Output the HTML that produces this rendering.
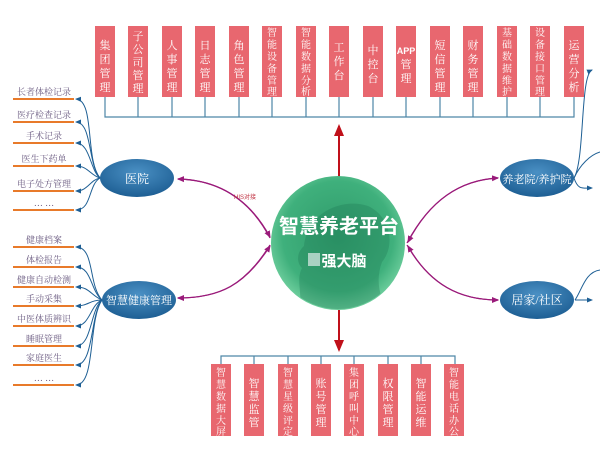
<!DOCTYPE html>
<html><head><meta charset="utf-8"><style>
html,body{margin:0;padding:0;background:#fff;width:600px;height:450px;overflow:hidden}
svg{display:block}
text{font-family:"Liberation Serif","Noto Serif CJK SC",serif}
.v{fill:#fff;font-size:11px;text-anchor:middle}
.s{font-size:10px}
.l{fill:#6a5a80;font-size:9px;text-anchor:middle}
</style></head><body>
<svg width="600" height="450" viewBox="0 0 600 450" xmlns="http://www.w3.org/2000/svg">
<defs>
<radialGradient id="ge" cx="50%" cy="35%" r="65%"><stop offset="0" stop-color="#4a90c4"/><stop offset="1" stop-color="#1e5f94"/></radialGradient>
<radialGradient id="gc" cx="50%" cy="45%" r="55%"><stop offset="0" stop-color="#2f9a6a"/><stop offset="0.75" stop-color="#3fb07c"/><stop offset="1" stop-color="#6fcf9e"/></radialGradient>
<clipPath id="cc"><circle cx="338" cy="243" r="66"/></clipPath>
<marker id="ab" markerWidth="6" markerHeight="6" refX="5" refY="3" orient="auto"><path d="M0,0.5 L6,3 L0,5.5z" fill="#1e5f94"/></marker>
<marker id="ap" markerWidth="6" markerHeight="6" refX="5" refY="3" orient="auto"><path d="M0,0.5 L6,3 L0,5.5z" fill="#9a1a7a"/></marker>
<marker id="ar" markerWidth="6" markerHeight="6" refX="5" refY="3" orient="auto"><path d="M0,0.5 L6,3 L0,5.5z" fill="#c0101a"/></marker>
</defs>

<g stroke="#4d86a6" stroke-width="1.2" fill="none">
<path d="M105,97V117H574V97"/>
<path d="M138,97V117M172,97V117M205,97V117M239,97V117M272,97V117M306,97V117M339,97V117M373,97V117M406,97V117M440,97V117M473,97V117M507,97V117M540,97V117"/>
<path d="M221,364V356H455V364M254,356V364M288,356V364M321,356V364M354,356V364M388,356V364M421,356V364"/>
</g>
<g fill="#e8676f">
<rect x="95" y="26" width="20" height="71"/><rect x="128" y="26" width="20" height="71"/><rect x="162" y="26" width="20" height="71"/><rect x="195" y="26" width="20" height="71"/><rect x="229" y="26" width="20" height="71"/><rect x="262" y="26" width="20" height="71"/><rect x="296" y="26" width="20" height="71"/><rect x="329" y="26" width="20" height="71"/><rect x="363" y="26" width="20" height="71"/><rect x="396" y="26" width="20" height="71"/><rect x="430" y="26" width="20" height="71"/><rect x="463" y="26" width="20" height="71"/><rect x="497" y="26" width="20" height="71"/><rect x="530" y="26" width="20" height="71"/><rect x="564" y="26" width="20" height="71"/>
<rect x="211" y="364" width="20" height="72"/><rect x="244" y="364" width="20" height="72"/><rect x="278" y="364" width="20" height="72"/><rect x="311" y="364" width="20" height="72"/><rect x="344" y="364" width="20" height="72"/><rect x="378" y="364" width="20" height="72"/><rect x="411" y="364" width="20" height="72"/><rect x="444" y="364" width="20" height="72"/>
</g>
<g class="v">
<text x="105" y="49">集</text><text x="105" y="63">团</text><text x="105" y="77">管</text><text x="105" y="91">理</text>
<text x="138" y="40">子</text><text x="138" y="53">公</text><text x="138" y="66">司</text><text x="138" y="79">管</text><text x="138" y="92">理</text>
<text x="172" y="49">人</text><text x="172" y="63">事</text><text x="172" y="77">管</text><text x="172" y="91">理</text>
<text x="205" y="49">日</text><text x="205" y="63">志</text><text x="205" y="77">管</text><text x="205" y="91">理</text>
<text x="239" y="49">角</text><text x="239" y="63">色</text><text x="239" y="77">管</text><text x="239" y="91">理</text>
<g class="s">
<text x="272" y="36">智</text><text x="272" y="48">能</text><text x="272" y="60">设</text><text x="272" y="72">备</text><text x="272" y="84">管</text><text x="272" y="95">理</text>
<text x="306" y="36">智</text><text x="306" y="48">能</text><text x="306" y="60">数</text><text x="306" y="72">据</text><text x="306" y="84">分</text><text x="306" y="95">析</text>
<text x="507" y="36">基</text><text x="507" y="48">础</text><text x="507" y="60">数</text><text x="507" y="72">据</text><text x="507" y="84">维</text><text x="507" y="95">护</text>
<text x="540" y="36">设</text><text x="540" y="48">备</text><text x="540" y="60">接</text><text x="540" y="72">口</text><text x="540" y="84">管</text><text x="540" y="95">理</text>
<text x="221" y="376">智</text><text x="221" y="388">慧</text><text x="221" y="400">数</text><text x="221" y="412">据</text><text x="221" y="424">大</text><text x="221" y="435">屏</text>
<text x="288" y="376">智</text><text x="288" y="388">慧</text><text x="288" y="400">星</text><text x="288" y="412">级</text><text x="288" y="424">评</text><text x="288" y="435">定</text>
<text x="354" y="376">集</text><text x="354" y="388">团</text><text x="354" y="400">呼</text><text x="354" y="412">叫</text><text x="354" y="424">中</text><text x="354" y="435">心</text>
<text x="454" y="376">智</text><text x="454" y="388">能</text><text x="454" y="400">电</text><text x="454" y="412">话</text><text x="454" y="424">办</text><text x="454" y="435">公</text>
</g>
<text x="339" y="51">工</text><text x="339" y="65">作</text><text x="339" y="79">台</text>
<text x="373" y="54">中</text><text x="373" y="68">控</text><text x="373" y="82">台</text>
<text x="406" y="54" style="font-family:'Liberation Sans',sans-serif;font-size:9px;font-weight:bold">APP</text><text x="406" y="68">管</text><text x="406" y="82">理</text>
<text x="440" y="49">短</text><text x="440" y="63">信</text><text x="440" y="77">管</text><text x="440" y="91">理</text>
<text x="473" y="49">财</text><text x="473" y="63">务</text><text x="473" y="77">管</text><text x="473" y="91">理</text>
<text x="574" y="49">运</text><text x="574" y="63">营</text><text x="574" y="77">分</text><text x="574" y="91">析</text>
<text x="254" y="387">智</text><text x="254" y="400">慧</text><text x="254" y="413">监</text><text x="254" y="426">管</text>
<text x="321" y="387">账</text><text x="321" y="400">号</text><text x="321" y="413">管</text><text x="321" y="426">理</text>
<text x="388" y="387">权</text><text x="388" y="400">限</text><text x="388" y="413">管</text><text x="388" y="426">理</text>
<text x="421" y="387">智</text><text x="421" y="400">能</text><text x="421" y="413">运</text><text x="421" y="426">维</text>
</g>

<path d="M339,178V126" stroke="#c0101a" stroke-width="2" marker-end="url(#ar)"/>
<path d="M339,310V350" stroke="#c0101a" stroke-width="2" marker-end="url(#ar)"/>

<g stroke="#9a1a7a" stroke-width="1.2" fill="none">
<path d="M270,238 C250,200 220,180 178,179" marker-end="url(#ap)"/>
<path d="M178,179 C220,180 250,200 270,237" marker-end="url(#ap)"/>
<path d="M270,245 C245,285 220,298 178,298" marker-end="url(#ap)"/>
<path d="M178,298 C220,298 245,285 270,246" marker-end="url(#ap)"/>
<path d="M407,243 C430,200 460,180 498,178" marker-end="url(#ap)"/>
<path d="M498,178 C460,180 430,200 408,242" marker-end="url(#ap)"/>
<path d="M407,245 C430,285 460,300 498,300" marker-end="url(#ap)"/>
<path d="M498,300 C460,300 430,285 408,246" marker-end="url(#ap)"/>
</g>
<text x="234" y="199" style="font-family:'Liberation Sans','Noto Sans CJK SC',sans-serif;font-size:6px;fill:#c03040">HIS对接</text>

<circle cx="338" cy="243" r="67" fill="url(#gc)"/>
<g clip-path="url(#cc)">
<path d="M300,310 C302,290 296,280 302,268 C296,262 297,252 304,246 C308,210 345,198 368,206 C390,216 396,245 382,262 C376,278 378,295 388,310z" fill="#1f7a55" opacity="0.35"/>
</g>
<text x="339" y="233" text-anchor="middle" style="font-family:'Liberation Sans','Noto Sans CJK SC',sans-serif;font-size:20px;font-weight:bold;fill:#fff">智慧养老平台</text>
<rect x="308" y="253" width="12" height="13" fill="#c8e0d8" opacity="0.8"/>
<text x="344" y="266" text-anchor="middle" style="font-family:'Liberation Sans','Noto Sans CJK SC',sans-serif;font-size:15px;font-weight:bold;fill:#fff">强大脑</text>

<ellipse cx="137" cy="178" rx="37" ry="19" fill="url(#ge)"/>
<ellipse cx="139" cy="300" rx="37" ry="19" fill="url(#ge)"/>
<ellipse cx="537" cy="178" rx="37" ry="19" fill="url(#ge)"/>
<ellipse cx="537" cy="300" rx="37" ry="19" fill="url(#ge)"/>
<g fill="#fff" text-anchor="middle" font-size="12">
<text x="137" y="183">医院</text>
<text x="139" y="304" font-size="11">智慧健康管理</text>
<text x="537" y="183" font-size="11">养老院/养护院</text>
<text x="537" y="304">居家/社区</text>
</g>

<g stroke="#e87a2a" stroke-width="2">
<path d="M13,99H74M13,122H74M13,143H74M13,166H74M13,191H74M13,210H74"/>
<path d="M13,247H74M13,267H74M13,287H74M13,306H74M13,326H74M13,346H74M13,365H74M13,385H74"/>
</g>
<g stroke="#1e5f94" stroke-width="1" fill="none">
<path d="M100,178 C85,160 95,100 76,99" marker-end="url(#ab)"/>
<path d="M100,178 C88,165 92,122 76,122" marker-end="url(#ab)"/>
<path d="M100,178 C90,170 90,143 76,143" marker-end="url(#ab)"/>
<path d="M100,178 C90,175 88,166 76,166" marker-end="url(#ab)"/>
<path d="M100,178 C90,180 88,191 76,191" marker-end="url(#ab)"/>
<path d="M100,178 C88,185 92,210 76,210" marker-end="url(#ab)"/>
<path d="M102,300 C88,285 95,247 76,247" marker-end="url(#ab)"/>
<path d="M102,300 C90,290 92,267 76,267" marker-end="url(#ab)"/>
<path d="M102,300 C90,295 90,287 76,287" marker-end="url(#ab)"/>
<path d="M102,300 C90,300 88,306 76,306" marker-end="url(#ab)"/>
<path d="M102,300 C90,305 90,326 76,326" marker-end="url(#ab)"/>
<path d="M102,300 C90,310 92,346 76,346" marker-end="url(#ab)"/>
<path d="M102,300 C90,315 94,365 76,365" marker-end="url(#ab)"/>
<path d="M102,300 C88,320 96,385 76,385" marker-end="url(#ab)"/>
<path d="M574,178 C585,160 580,75 592,70" marker-end="url(#ab)"/>
<path d="M574,178 C580,165 590,155 600,152"/>
<path d="M574,178 C578,190 582,188 592,188" marker-end="url(#ab)"/>
<path d="M575,300 C582,290 585,272 600,270"/>
<path d="M575,300 L592,300" marker-end="url(#ab)"/>
</g>
<g class="l">
<text x="44" y="95">长者体检记录</text>
<text x="44" y="118">医疗检查记录</text>
<text x="44" y="139">手术记录</text>
<text x="44" y="162">医生下药单</text>
<text x="44" y="187">电子处方管理</text>
<text x="44" y="206">… …</text>
<text x="44" y="243">健康档案</text>
<text x="44" y="263">体检报告</text>
<text x="44" y="283">健康自动检测</text>
<text x="44" y="302">手动采集</text>
<text x="44" y="322">中医体质辨识</text>
<text x="44" y="342">睡眠管理</text>
<text x="44" y="361">家庭医生</text>
<text x="44" y="381">… …</text>
</g>
</svg>
</body></html>
